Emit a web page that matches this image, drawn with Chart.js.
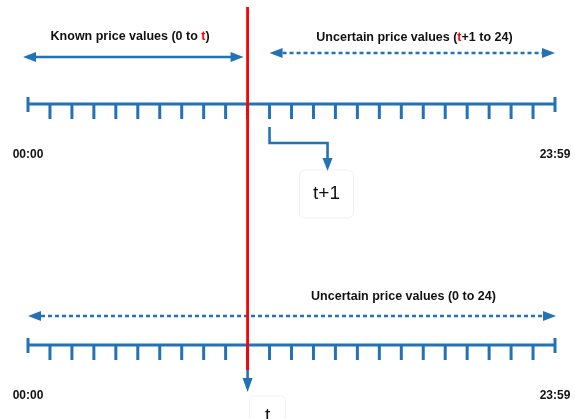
<!DOCTYPE html>
<html>
<head>
<meta charset="utf-8">
<script src="https://cdn.jsdelivr.net/npm/chart.js@4.4.1/dist/chart.umd.min.js"></script>
<style>
  html, body { margin: 0; padding: 0; background: #fff; }
  #wrap { width: 575px; height: 419px; }
</style>
</head>
<body>
<div id="wrap"><canvas id="timeline"></canvas></div>
<script>
// hours on the day axis (0..24), t = last known hour
const hours = [0, 1, 2, 3, 4, 5, 6, 7, 8, 9, 10, 11, 12, 13, 14, 15, 16, 17, 18, 19, 20, 21, 22, 23, 24];
const t = 10;
const endLabels = ['00:00', '23:59'];
const knownLabel = ['Known price values (0 to ', 't', ')'];
const uncertainLabel = ['Uncertain price values (', 't', '+1 to 24)'];
const uncertainAllLabel = ['Uncertain price values (0 to 24)'];
const boxLabels = ['t+1', 't'];
// vertical levels of the two timelines
const rows = { top: 104, bottom: 345 };

const BLUE = '#2272b5';
const RED = '#ff0000';

function arrowHead(ctx, x, y, dir, len, half) {
  ctx.beginPath();
  if (dir === 'left') { ctx.moveTo(x, y); ctx.lineTo(x + len, y - half); ctx.lineTo(x + len, y + half); }
  if (dir === 'right') { ctx.moveTo(x, y); ctx.lineTo(x - len, y - half); ctx.lineTo(x - len, y + half); }
  if (dir === 'down') { ctx.moveTo(x, y); ctx.lineTo(x - half, y - len); ctx.lineTo(x + half, y - len); }
  ctx.closePath();
  ctx.fill();
}

function hArrow(ctx, x1, x2, y, dashed) {
  ctx.save();
  ctx.strokeStyle = BLUE;
  ctx.fillStyle = BLUE;
  ctx.lineWidth = dashed ? 2.4 : 2.6;
  if (dashed) ctx.setLineDash([4, 3]);
  ctx.beginPath();
  ctx.moveTo(x1 + 6, y);
  ctx.lineTo(x2 - 6, y);
  ctx.stroke();
  ctx.setLineDash([]);
  arrowHead(ctx, x1, y, 'left', 13, 5);
  arrowHead(ctx, x2, y, 'right', 13, 5);
  ctx.restore();
}

function richText(ctx, parts, cx, y) {
  const widths = parts.map(p => ctx.measureText(p).width);
  let x = cx - widths.reduce((a, b) => a + b, 0) / 2;
  parts.forEach((p, i) => {
    ctx.fillStyle = (p === 't') ? RED : '#111';
    ctx.fillText(p, x, y);
    x += widths[i];
  });
}

function box(ctx, x, y, w, h, label) {
  ctx.save();
  ctx.strokeStyle = 'rgba(215,225,235,0.45)';
  ctx.lineWidth = 1;
  ctx.beginPath();
  ctx.roundRect(x, y, w, h, 5);
  ctx.stroke();
  ctx.fillStyle = '#111';
  ctx.font = '19px "Liberation Sans", Arial, sans-serif';
  ctx.textAlign = 'center';
  ctx.textBaseline = 'middle';
  ctx.fillText(label, x + w / 2, y + h / 2);
  ctx.restore();
}

const diagram = {
  id: 'diagram',
  beforeDatasetsDraw(chart) {
    const ctx = chart.ctx;
    const xs = chart.scales.x, ys = chart.scales.y;
    const X = v => xs.getPixelForValue(v);
    const Y = v => ys.getPixelForValue(v);

    // tick marks on both timelines
    ctx.save();
    ctx.strokeStyle = BLUE;
    ctx.lineWidth = 3;
    [rows.top, rows.bottom].forEach(r => {
      hours.forEach(h => {
        ctx.beginPath();
        if (h === hours[0] || h === hours[hours.length - 1]) {
          ctx.moveTo(X(h), Y(r) - 7);
          ctx.lineTo(X(h), Y(r) + 8);
        } else {
          ctx.moveTo(X(h), Y(r));
          ctx.lineTo(X(h), Y(r) + 15);
        }
        ctx.stroke();
      });
    });
    ctx.restore();

    // range arrows
    hArrow(ctx, X(0) - 5, X(t) - 4, Y(57), false);
    hArrow(ctx, X(t + 1), X(24), Y(53), true);
    hArrow(ctx, X(0), X(24) + 1, Y(316), true);

    // elbow from t+1 tick down to box
    ctx.save();
    ctx.strokeStyle = BLUE;
    ctx.fillStyle = BLUE;
    ctx.lineWidth = 2.6;
    const ex = X(t + 1), bx = ex + 58;
    ctx.beginPath();
    ctx.moveTo(ex, Y(127));
    ctx.lineTo(ex, Y(143));
    ctx.lineTo(bx, Y(143));
    ctx.lineTo(bx, Y(162));
    ctx.stroke();
    arrowHead(ctx, bx, Y(171), 'down', 13, 5);

    // arrow under t on the lower timeline
    ctx.beginPath();
    ctx.moveTo(X(t), Y(rows.bottom));
    ctx.lineTo(X(t), Y(384));
    ctx.stroke();
    arrowHead(ctx, X(t), Y(392), 'down', 14, 5);
    ctx.restore();
  },
  afterDraw(chart) {
    const ctx = chart.ctx;
    const xs = chart.scales.x, ys = chart.scales.y;
    const X = v => xs.getPixelForValue(v);
    const Y = v => ys.getPixelForValue(v);

    ctx.save();
    ctx.font = 'bold 12.5px "Liberation Sans", Arial, sans-serif';
    ctx.textAlign = 'left';
    ctx.textBaseline = 'middle';
    richText(ctx, knownLabel, X(4.65), Y(37));
    richText(ctx, uncertainLabel, X(17.6), Y(38));
    richText(ctx, uncertainAllLabel, X(17.1), Y(297));

    ctx.font = 'bold 12px "Liberation Sans", Arial, sans-serif';
    ctx.textAlign = 'center';
    ctx.fillStyle = '#111';
    [rows.top, rows.bottom].forEach(r => {
      const ly = Y(r + 51);
      ctx.fillText(endLabels[0], X(hours[0]), ly);
      ctx.fillText(endLabels[1], X(hours[hours.length - 1]), ly);
    });
    ctx.restore();

    const bx = X(t + 1) + 58;
    box(ctx, bx - 28, Y(170), 54, 48, boxLabels[0]);
    box(ctx, X(t) + 2, Y(396), 36, 40, boxLabels[1]);
  }
};

new Chart(document.getElementById('timeline'), {
  type: 'scatter',
  data: {
    datasets: [
      {
        label: 't',
        data: [{ x: t, y: 7 }, { x: t, y: 370 }],
        showLine: true,
        borderColor: RED,
        borderWidth: 2.8,
        pointRadius: 0
      },
      {
        label: 'day (with t+1)',
        data: [{ x: hours[0], y: rows.top }, { x: hours[hours.length - 1], y: rows.top }],
        showLine: true,
        borderColor: BLUE,
        borderWidth: 3,
        pointRadius: 0
      },
      {
        label: 'day (uncertain)',
        data: [{ x: hours[0], y: rows.bottom }, { x: hours[hours.length - 1], y: rows.bottom }],
        showLine: true,
        borderColor: BLUE,
        borderWidth: 3,
        pointRadius: 0
      }
    ]
  },
  options: {
    responsive: true,
    maintainAspectRatio: false,
    animation: false,
    layout: { padding: { left: 28, right: 20, top: 0, bottom: 0 } },
    scales: {
      x: { type: 'linear', min: 0, max: 24, display: false },
      y: { type: 'linear', min: 0, max: 419, reverse: true, display: false }
    },
    plugins: {
      legend: { display: false },
      tooltip: { enabled: false }
    }
  },
  plugins: [diagram]
});
</script>
</body>
</html>
